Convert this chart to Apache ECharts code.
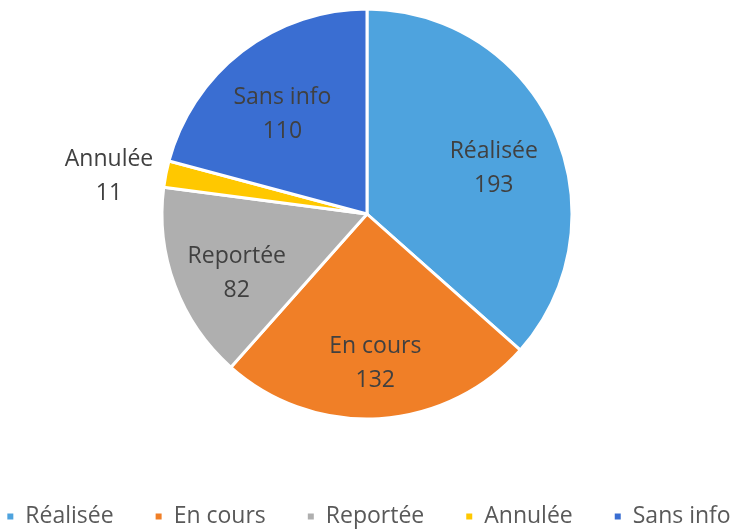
<!DOCTYPE html>
<html><head><meta charset="utf-8">
<script src="https://cdn.jsdelivr.net/npm/echarts@6/dist/echarts.min.js"></script>
<style>html,body{margin:0;padding:0;background:#fff}#c{width:736px;height:529px}</style>
</head><body><div id="c"></div>
<script>
const categories = ['Réalisée', 'En cours', 'Reportée', 'Annulée', 'Sans info'];
const values = [193, 132, 82, 11, 110];
const colors = ['#4EA3DE', '#F07F27', '#AFAFAF', '#FFC800', '#3A6ED2'];
const outsideLabels = ['Annulée'];

const font = 'Open Sans';
const chart = echarts.init(document.getElementById('c'));
const mainData = categories.map((n, i) => {
  const d = { name: n, value: values[i], itemStyle: { color: colors[i] } };
  if (outsideLabels.includes(n)) {
    d.label = { show: true, position: 'outside', formatter: '{a|{b}}\n{a|{c}}', offset: [0, 3],
      rich: { a: { width: 96, align: 'center', fontSize: 23, lineHeight: 34, color: '#404040', fontFamily: font } } };
    d.labelLine = { show: false, length: 4, length2: 0 };
  }
  return d;
});
const labelData = categories.map((n, i) => ({
  name: n, value: values[i],
  label: { show: !outsideLabels.includes(n) }
}));
chart.setOption({
  animation: false,
  legend: {
    top: 500, left: 'center', itemWidth: 8, itemHeight: 8, itemGap: 40, icon: 'rect',
    textStyle: { fontSize: 23, color: '#595959', fontFamily: font, padding: [0, 0, 0, 6] },
    data: categories
  },
  series: [
    {
      type: 'pie', center: [367, 214], radius: [0, 205], startAngle: 90, clockwise: true,
      itemStyle: { borderColor: '#fff', borderWidth: 3 },
      label: { show: false }, labelLine: { show: false },
      data: mainData, silent: true
    },
    {
      type: 'pie', center: [367, 214], radius: [0, 272], startAngle: 90, clockwise: true,
      itemStyle: { color: 'rgba(0,0,0,0)', borderWidth: 0 },
      label: { position: 'inside', formatter: '{b}\n{c}', offset: [0, 11], fontSize: 23, lineHeight: 34, color: '#404040', fontFamily: font },
      labelLine: { show: false }, silent: true, legendHoverLink: false,
      data: labelData
    }
  ]
});
</script></body></html>
